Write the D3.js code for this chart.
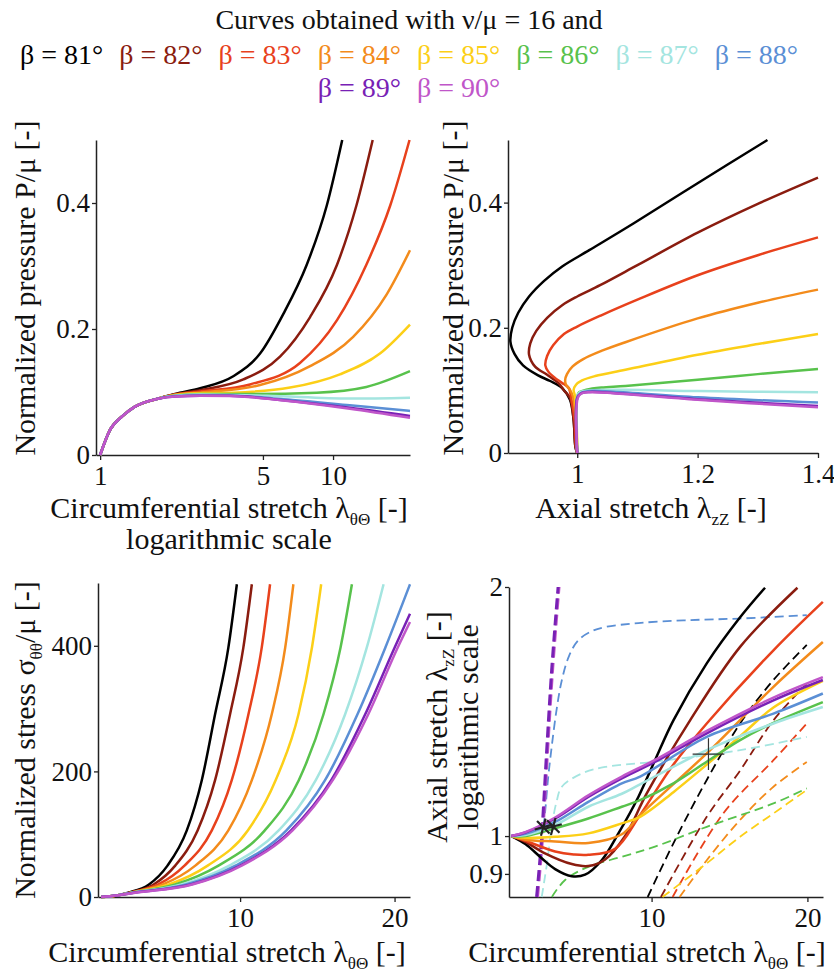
<!DOCTYPE html>
<html>
<head>
<meta charset="utf-8">
<script src="https://cdn.jsdelivr.net/npm/d3@7"></script>
<style>
  body { margin: 0; background: #fff; }
  svg { display: block; }
</style>
</head>
<body>
<svg id="chart" width="834" height="973"></svg>
<script>
// --- Series shared by all four panels ---
const betas = [81, 82, 83, 84, 85, 86, 87, 88, 89, 90];
const betaColors = ["#000000", "#8a1c0f", "#e8411c", "#f38b1b", "#fccf17",
                    "#58c24c", "#a4e5e0", "#5b8fd5", "#7821b5", "#c056c9"];

// Top left: P/mu against lambda_thetaTheta (log axis), one list per beta
const pressureVsCirc = [
  [[1,0],[1.1,0.039],[1.25,0.062],[1.4,0.076],[1.75,0.089],[2.1,0.097],[2.69,0.106],[3.73,0.125],[4.86,0.161],[6.12,0.224],[7.71,0.302],[9.4,0.396],[10.95,0.5]],
  [[1,0],[1.1,0.039],[1.25,0.062],[1.4,0.076],[1.75,0.089],[2.1,0.0965],[2.69,0.103],[4.12,0.12],[5.92,0.156],[7.97,0.219],[10.4,0.302],[12.6,0.396],[14.8,0.5]],
  [[1,0],[1.1,0.039],[1.25,0.062],[1.4,0.076],[1.75,0.089],[2.1,0.096],[2.69,0.101],[4.4,0.112],[7.21,0.146],[10.4,0.214],[13.9,0.302],[17.6,0.396],[21.3,0.5]],
  [[1,0],[1.1,0.039],[1.25,0.062],[1.4,0.076],[1.75,0.089],[2.1,0.0955],[2.69,0.099],[4.86,0.111],[7.97,0.141],[12.2,0.1875],[17.0,0.255],[21.4,0.325]],
  [[1,0],[1.1,0.039],[1.25,0.062],[1.4,0.076],[1.75,0.089],[2.1,0.095],[2.69,0.098],[3.73,0.099],[6.54,0.107],[10.7,0.128],[15.9,0.161],[21.4,0.207]],
  [[1,0],[1.1,0.039],[1.25,0.062],[1.4,0.076],[1.75,0.089],[2.1,0.0945],[2.69,0.097],[4.4,0.097],[8.51,0.099],[13.9,0.108],[21.4,0.133]],
  [[1,0],[1.1,0.039],[1.25,0.062],[1.4,0.076],[1.75,0.089],[2.1,0.094],[2.69,0.096],[5.19,0.094],[11.8,0.0895],[21.4,0.091]],
  [[1,0],[1.1,0.039],[1.25,0.062],[1.4,0.076],[1.75,0.089],[2.1,0.0935],[2.69,0.095],[3.6,0.0945],[6.12,0.0885],[11.8,0.079],[21.4,0.070]],
  [[1,0],[1.1,0.039],[1.25,0.062],[1.4,0.076],[1.75,0.089],[2.1,0.093],[2.69,0.094],[3.6,0.094],[6.12,0.087],[11.8,0.075],[21.4,0.062]],
  [[1,0],[1.1,0.039],[1.25,0.062],[1.4,0.076],[1.75,0.089],[2.1,0.093],[2.69,0.094],[3.6,0.0938],[6.12,0.0865],[11.8,0.0735],[21.4,0.059]]
];

// Top right: P/mu against lambda_zZ, points in order along each curve
const pressureVsAxial = [
  [[1.0,0],[0.997,0.01],[0.994,0.053],[0.988,0.085],[0.975,0.1035],[0.955,0.115],[0.935,0.124],[0.91,0.14],[0.896,0.158],[0.889,0.178],[0.892,0.2],[0.902,0.224],[0.92,0.25],[0.945,0.275],[0.975,0.298],[1.02,0.324],[1.094,0.367],[1.2,0.431],[1.316,0.5]],
  [[1.0,0],[0.997,0.01],[0.994,0.053],[0.988,0.088],[0.978,0.1],[0.969,0.1115],[0.95,0.125],[0.93,0.138],[0.92,0.157],[0.922,0.175],[0.932,0.195],[0.95,0.216],[0.975,0.236],[1.0,0.25],[1.038,0.268],[1.1,0.3],[1.2,0.352],[1.3,0.398],[1.4,0.44]],
  [[1.0,0],[0.998,0.01],[0.996,0.05],[0.99,0.088],[0.986,0.1035],[0.975,0.112],[0.963,0.12],[0.952,0.13],[0.947,0.14],[0.95,0.155],[0.96,0.172],[0.978,0.19],[1.0,0.202],[1.04,0.22],[1.1,0.245],[1.2,0.284],[1.3,0.316],[1.4,0.3445]],
  [[1.0,0],[0.998,0.05],[0.993,0.09],[0.988,0.101],[0.981,0.11],[0.98,0.117],[0.983,0.126],[0.992,0.138],[1.01,0.15],[1.04,0.163],[1.08,0.177],[1.2,0.215],[1.3,0.24],[1.4,0.261]],
  [[1.0,0],[0.999,0.05],[0.996,0.092],[0.994,0.101],[0.998,0.109],[1.008,0.116],[1.03,0.123],[1.08,0.133],[1.2,0.157],[1.3,0.174],[1.4,0.19]],
  [[1.0,0],[1.0,0.09],[1.003,0.097],[1.015,0.101],[1.04,0.1045],[1.08,0.107],[1.2,0.117],[1.3,0.126],[1.4,0.134]],
  [[1.0,0],[1.0,0.09],[1.004,0.097],[1.02,0.1],[1.08,0.101],[1.2,0.099],[1.4,0.097]],
  [[1.0,0],[1.0,0.088],[1.005,0.095],[1.02,0.099],[1.06,0.098],[1.2,0.089],[1.4,0.0805]],
  [[1.0,0],[1.0,0.088],[1.006,0.095],[1.02,0.0975],[1.06,0.096],[1.2,0.086],[1.4,0.075]],
  [[1.0,0],[1.001,0.088],[1.007,0.095],[1.02,0.097],[1.06,0.0955],[1.2,0.085],[1.4,0.073]]
];

// Bottom left: sigma_thetatheta/mu against lambda_thetaTheta
const stressVsCirc = [
  [[1,0],[2,2.5],[2.76,7],[4.1,20],[5.3,50],[6.55,106],[7.52,186],[8.38,291],[9.24,397],[9.79,498]],
  [[1,0],[2,2.5],[2.85,7],[4.4,20],[5.8,50],[7.25,106],[8.38,186],[9.35,291],[10.21,397],[10.76,498]],
  [[1,0],[2,2.5],[2.9,7],[4.7,20],[6.4,50],[8.17,106],[9.46,186],[10.54,291],[11.4,397],[11.94,498]],
  [[1,0],[2,2.5],[2.95,7],[5.0,20],[7.1,50],[9.24,106],[10.76,186],[12.05,291],[12.92,397],[13.45,498]],
  [[1,0],[2,2.5],[3.0,7],[5.4,20],[7.9,50],[10.5,106],[12.3,186],[13.78,291],[14.65,397],[15.25,498]],
  [[1,0],[2,2.5],[3.05,7],[5.8,20],[8.6,50],[11.6,106],[13.8,186],[15.4,291],[16.5,397],[17.24,498]],
  [[1,0],[2,2.5],[3.1,7],[6.2,20],[9.3,50],[12.5,106],[14.9,186],[16.8,291],[18.2,397],[19.29,498]],
  [[1,0],[2,2.5],[3.15,7],[6.5,20],[9.7,50],[13.0,106],[15.5,186],[17.6,291],[19.4,397],[21.0,498]],
  [[1,0],[2,2.4],[3.2,7],[6.8,20],[10.0,50],[13.3,106],[15.9,186],[18.1,291],[20.0,397],[21.0,451]],
  [[1,0],[2,2.4],[3.2,6.8],[6.9,20],[10.1,50],[13.4,106],[16.0,186],[18.3,291],[20.2,397],[21.0,438]]
];

// Bottom right: lambda_zZ against lambda_thetaTheta, solid lines
const axialVsCirc = [
  [[1,1],[1.9,0.978],[2.95,0.94],[3.81,0.912],[4.88,0.894],[5.73,0.898],[6.8,0.935],[7.87,1.0075],[9.15,1.115],[10.22,1.235],[11.4,1.38],[13.54,1.617],[15.68,1.838],[17.28,1.996]],
  [[1,1],[1.9,0.984],[3.16,0.953],[4.88,0.925],[5.94,0.92],[7.02,0.937],[8.3,1.0],[9.69,1.126],[12.47,1.38],[15.68,1.693],[19.36,1.996]],
  [[1,1],[1.9,0.987],[3.81,0.958],[5.0,0.95],[5.94,0.949],[7.66,0.965],[9.26,1.06],[11.4,1.22],[13.54,1.368],[17.82,1.677],[20.99,1.919]],
  [[1,1],[1.9,0.99],[3.81,0.985],[5.94,0.981],[8.09,1.005],[9.26,1.06],[13.54,1.259],[17.82,1.515],[20.99,1.716]],
  [[1,1],[1.9,0.995],[3.81,0.998],[5.94,1.0075],[8.09,1.036],[9.26,1.055],[11.4,1.13],[13.54,1.22],[15.68,1.32],[17.82,1.43],[20.99,1.54]],
  [[1,1],[1.9,1.0],[3.81,1.022],[5.94,1.05],[8.09,1.085],[9.26,1.105],[11.4,1.158],[13.54,1.23],[15.68,1.306],[17.82,1.37],[20.99,1.452]],
  [[1,1],[1.9,1.003],[3.81,1.031],[5.94,1.085],[8.09,1.125],[9.26,1.155],[13.54,1.27],[17.82,1.368],[20.99,1.432]],
  [[1,1],[1.9,1.006],[3.81,1.04],[5.94,1.1],[8.09,1.158],[9.26,1.18],[13.54,1.318],[17.82,1.406],[20.99,1.487]],
  [[1,1],[1.9,1.01],[3.81,1.05],[5.94,1.115],[8.09,1.174],[10.22,1.229],[13.54,1.331],[17.82,1.459],[20.99,1.544]],
  [[1,1],[1.9,1.011],[3.81,1.053],[5.94,1.12],[8.09,1.18],[10.22,1.236],[13.54,1.34],[17.82,1.47],[20.99,1.556]]
];

// Bottom right: dashed lines
const axialVsCircDashed = [
  [[9.75,0.844],[11.4,0.98],[13.54,1.169],[15.68,1.368],[17.82,1.544],[19.96,1.702]],
  [[10.6,0.844],[13.54,1.055],[15.68,1.2],[17.82,1.38],[19.96,1.528]],
  [[11.35,0.844],[14.6,1.065],[17.82,1.235],[19.96,1.368]],
  [[11.8,0.844],[13.54,0.935],[15.68,1.046],[17.82,1.147],[19.96,1.229]],
  [[10.7,0.844],[13.54,0.927],[15.68,0.998],[17.82,1.065],[19.96,1.137]],
  [[3.6,0.844],[4.45,0.885],[5.94,0.918],[8.09,0.944],[10.22,0.971],[13.54,1.026],[17.82,1.095],[19.96,1.142]],
  [[2.95,0.844],[3.3,0.93],[3.59,1.026],[3.9,1.1],[4.24,1.147],[5.52,1.19],[7.02,1.212],[10.0,1.229],[15.68,1.27],[19.96,1.318]],
  [[3.06,1.025],[3.16,1.065],[3.35,1.17],[3.59,1.282],[3.9,1.42],[4.24,1.543],[4.7,1.65],[5.3,1.725],[6.2,1.77],[7.02,1.789],[9.15,1.809],[12.15,1.823],[15.68,1.832],[19.96,1.849]],
  [[2.62,0.844],[2.9,0.97],[3.08,1.1],[3.3,1.3],[3.6,1.6],[4.0,2.0]],
  [[2.68,0.844],[2.96,0.97],[3.14,1.1],[3.36,1.3],[3.66,1.6],[4.06,2.0]]
];
const starPoints = [[3.05, 1.025], [3.69, 1.027]];
const crossPoints = [[13.65, 1.256]];

// Tick values
const circLogTicks = [1, 5, 10];
const pressureTicks = [0, 0.2, 0.4];
const axialTicks = [1, 1.2, 1.4];
const circTicks = [10, 20];
const stressTicks = [0, 200, 400];
const axialLogTicks = [0.9, 1, 2];

// --- Pick an installed serif face (falls back to the default) ---
function pickSerif() {
    const ctx = document.createElement("canvas").getContext("2d");
    const sample = "Curves obtained with 16 and 0.4";
    const cands = ["Liberation Serif", "Times New Roman", "Tinos", "Nimbus Roman", "Nimbus Roman No9 L",
                   "Noto Serif", "DejaVu Serif", "FreeSerif", "Georgia", "Times"];
    for (const f of cands) {
        ctx.font = `40px "${f}", monospace`;
        const a = ctx.measureText(sample).width;
        ctx.font = `40px "${f}", sans-serif`;
        const b = ctx.measureText(sample).width;
        if (Math.abs(a - b) < 0.01) return `"${f}", serif`;
    }
    return "serif";
}
const SERIF = pickSerif();

const svg = d3.select("#chart").attr("font-family", SERIF);
const TICK_FONT = 27, LABEL_FONT = 30, SUB_FONT = 17;

// --- Title & legend ---
svg.append("text")
    .attr("x", 409).attr("y", 29)
    .attr("text-anchor", "middle")
    .attr("font-family", SERIF)
    .attr("font-size", 28)
    .attr("fill", "#111")
    .text("Curves obtained with ν/μ = 16 and");

const legendRows = [[0, 1, 2, 3, 4, 5, 6, 7], [8, 9]];
const legendY = [64, 97];
legendRows.forEach((row, r) => {
    const items = row.map(i => svg.append("text")
        .attr("y", legendY[r])
        .attr("font-family", SERIF)
        .attr("font-size", 28)
        .attr("fill", betaColors[i])
        .text(`β = ${betas[i]}°`));
    const widths = items.map(t => t.node().getComputedTextLength());
    const gap = 16;
    let x = 409 - (d3.sum(widths) + gap * (row.length - 1)) / 2;
    items.forEach((t, k) => { t.attr("x", x); x += widths[k] + gap; });
});

// --- Helpers ---
function richText(text, parts) {
    let down = false;
    text.attr("font-family", SERIF);
    parts.forEach(([t, sub]) => {
        const ts = text.append("tspan").text(t);
        if (sub) {
            ts.attr("font-size", SUB_FONT);
            if (!down) { ts.attr("dy", 7); down = true; }
        } else if (down) {
            ts.attr("dy", -7); down = false;
        }
    });
    return text;
}

function styleAxis(g) {
    g.attr("font-size", null).attr("font-family", SERIF);
    g.select(".domain").attr("stroke", "#222").attr("stroke-width", 1.5);
    g.selectAll(".tick line").attr("stroke", "#222").attr("stroke-width", 1.3);
    g.selectAll(".tick text").attr("font-size", TICK_FONT).attr("font-family", SERIF).attr("fill", "#111");
}

function drawPanel(p) {
    const g = svg.append("g");
    const [x0, x1] = p.x.range();
    const [y0, y1] = p.y.range();

    g.append("clipPath").attr("id", "clip-" + p.id)
        .append("rect")
        .attr("x", x0).attr("y", y1 - 2)
        .attr("width", x1 - x0 + 2).attr("height", y0 - y1 + 4);

    g.append("g")
        .attr("transform", `translate(0,${y0})`)
        .call(d3.axisBottom(p.x).tickValues(p.xTicks).tickFormat(p.xFormat || d3.format("")).tickSize(5).tickSizeOuter(0).tickPadding(6))
        .call(styleAxis);

    g.append("g")
        .attr("transform", `translate(${x0},0)`)
        .call(d3.axisLeft(p.y).tickValues(p.yTicks).tickFormat(p.yFormat || d3.format("")).tickSize(4).tickSizeOuter(0).tickPadding(2))
        .call(styleAxis);

    const plot = g.append("g").attr("clip-path", `url(#clip-${p.id})`);
    const line = d3.line().x(d => p.x(d[0])).y(d => p.y(d[1])).curve(p.curve);

    // thin dashed first, then the two thick ones with beta = 89 on top
    const order = (p.dashed || []).map((_, i) => i);
    if (order.length === 10) { order[8] = 9; order[9] = 8; }
    order.forEach(i => {
        const thick = i >= 8;
        plot.append("path")
            .attr("d", line(p.dashed[i]))
            .attr("fill", "none")
            .attr("stroke", betaColors[i])
            .attr("stroke-width", thick ? 3 : 1.8)
            .attr("stroke-dasharray", thick ? "11,5" : "9,5");
    });

    p.series.forEach((pts, i) => {
        plot.append("path")
            .attr("d", line(pts))
            .attr("fill", "none")
            .attr("stroke", betaColors[i])
            .attr("stroke-width", 2.5)
            .attr("stroke-linejoin", "round");
    });

    p.xLabel.forEach((parts, k) => {
        richText(g.append("text")
            .attr("x", p.xLabelX).attr("y", p.xLabelY + k * 31)
            .attr("text-anchor", "middle")
            .attr("font-size", LABEL_FONT)
            .attr("fill", "#111"), parts);
    });
    p.yLabel.forEach((parts, k) => {
        richText(g.append("text")
            .attr("transform", `translate(${p.yLabelX[k]},${p.yLabelY}) rotate(-90)`)
            .attr("text-anchor", "middle")
            .attr("font-size", LABEL_FONT)
            .attr("fill", "#111"), parts);
    });
    return plot;
}

const fmtP = d => d === 0 ? "0" : d3.format(".1f")(d);

drawPanel({
    id: "a",
    x: d3.scaleLog().domain([0.96, 21.4]).range([96, 410]),
    y: d3.scaleLinear().domain([0, 0.5]).range([455, 140]),
    xTicks: circLogTicks, yTicks: pressureTicks, yFormat: fmtP,
    curve: d3.curveMonotoneX,
    series: pressureVsCirc,
    xLabel: [[["Circumferential stretch λ"], ["θΘ", true], [" [-]"]], [["logarithmic scale"]]],
    xLabelX: 229, xLabelY: 518,
    yLabel: [[["Normalized pressure P/μ [-]"]]],
    yLabelX: [35], yLabelY: 288
});

drawPanel({
    id: "b",
    x: d3.scaleLinear().domain([0.885, 1.4]).range([508, 818]),
    y: d3.scaleLinear().domain([0, 0.5]).range([453, 140]),
    xTicks: axialTicks, yTicks: pressureTicks, yFormat: fmtP,
    xFormat: d => d === 1 ? "1" : d3.format(".1f")(d),
    curve: d3.curveCatmullRom.alpha(0.5),
    series: pressureVsAxial,
    xLabel: [[["Axial stretch λ"], ["zZ", true], [" [-]"]]],
    xLabelX: 651, xLabelY: 518,
    yLabel: [[["Normalized pressure P/μ [-]"]]],
    yLabelX: [463], yLabelY: 288
});

drawPanel({
    id: "c",
    x: d3.scaleLinear().domain([0.8, 21]).range([98, 410]),
    y: d3.scaleLinear().domain([0, 500]).range([897, 583]),
    xTicks: circTicks, yTicks: stressTicks,
    curve: d3.curveMonotoneX,
    series: stressVsCirc,
    xLabel: [[["Circumferential stretch λ"], ["θΘ", true], [" [-]"]]],
    xLabelX: 227, xLabelY: 962,
    yLabel: [[["Normalized stress σ"], ["θθ", true], ["/μ [-]"]]],
    yLabelX: [35], yLabelY: 740
});

const xD = d3.scaleLinear().domain([0.85, 21]).range([509, 823]);
const yD = d3.scaleLog().domain([0.844, 2]).range([897, 587]);

const plotD = drawPanel({
    id: "d",
    x: xD, y: yD,
    xTicks: circTicks, yTicks: axialLogTicks,
    yFormat: d => String(d),
    curve: d3.curveCatmullRom.alpha(0.5),
    series: axialVsCirc,
    dashed: axialVsCircDashed,
    xLabel: [[["Circumferential stretch λ"], ["θΘ", true], [" [-]"]]],
    xLabelX: 647, xLabelY: 962,
    yLabel: [[["Axial stretch λ"], ["zZ", true], [" [-]"]], [["logarithmic scale"]]],
    yLabelX: [447, 478], yLabelY: 727
});

// markers on the bottom-right panel
plotD.selectAll(".star").data(starPoints).join("path")
    .attr("transform", d => `translate(${xD(d[0])},${yD(d[1])}) rotate(15)`)
    .attr("d", d3.symbol(d3.symbolAsterisk, 220)())
    .attr("fill", "none").attr("stroke", "#222").attr("stroke-width", 2.2);
plotD.selectAll(".cross").data(crossPoints).join("path")
    .attr("transform", d => `translate(${xD(d[0])},${yD(d[1])})`)
    .attr("d", d3.symbol(d3.symbolPlus, 330)())
    .attr("fill", "none").attr("stroke", "#333").attr("stroke-width", 1.2);
</script>
</body>
</html>
